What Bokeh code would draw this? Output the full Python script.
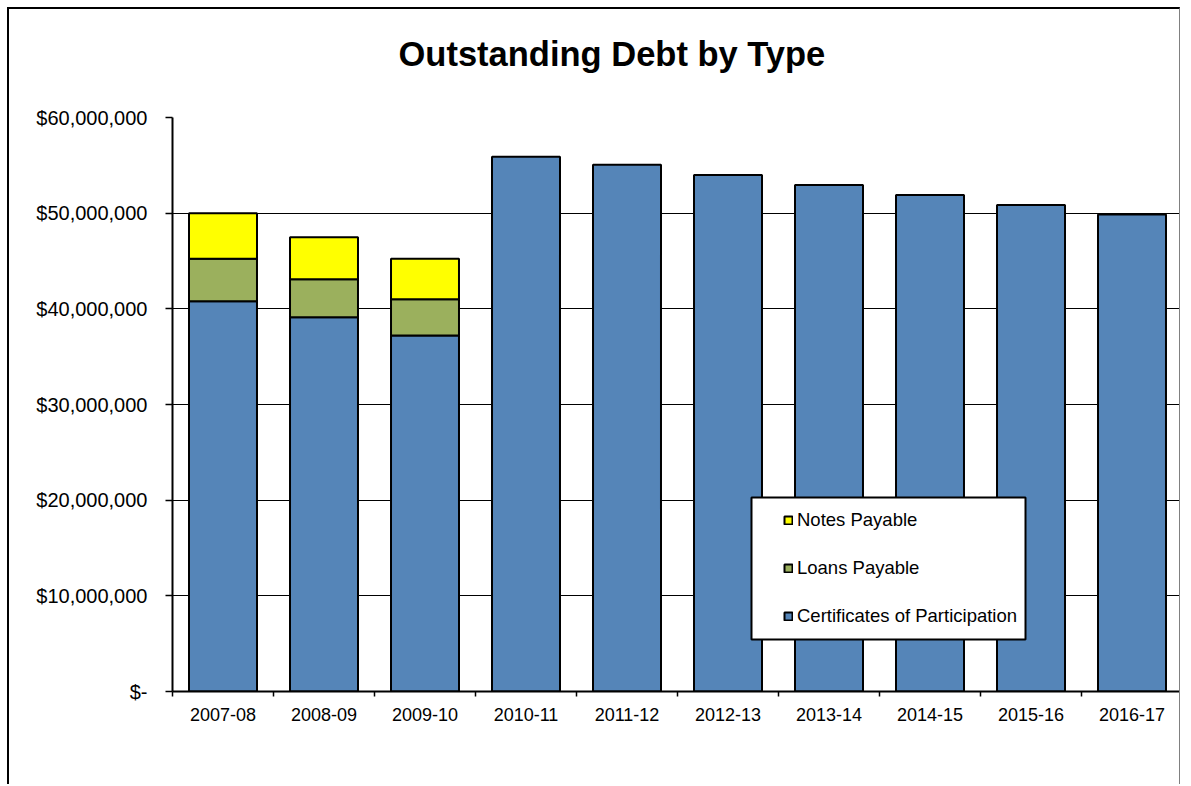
import numpy as np
from bokeh.plotting import figure
from bokeh.models import (Range1d, FixedTicker, Legend, LegendItem, BoxAnnotation,
                          ColumnDataSource, Title)
from bokeh.embed import file_html
from bokeh.resources import INLINE

# ---- data ----
categories = ["2007-08", "2008-09", "2009-10", "2010-11", "2011-12",
              "2012-13", "2013-14", "2014-15", "2015-16", "2016-17"]
certificates = [40_800_000, 39_130_000, 37_200_000, 55_900_000, 55_050_000,
                54_000_000, 52_950_000, 51_900_000, 50_850_000, 49_850_000]
loans = [4_430_000, 3_970_000, 3_800_000, 0, 0, 0, 0, 0, 0, 0]
notes = [4_770_000, 4_390_000, 4_230_000, 0, 0, 0, 0, 0, 0, 0]
y_ticks = [0, 10_000_000, 20_000_000, 30_000_000, 40_000_000, 50_000_000, 60_000_000]
title_text = "Outstanding Debt by Type"
series_names = ["Certificates of Participation", "Loans Payable", "Notes Payable"]
colors = ["#5585B8", "#9BB05D", "#FFFF00"]

FONT = "Liberation Sans"

n = len(categories)
xc = np.arange(n) + 0.5

p = figure(width=1173, height=777, output_backend="svg", toolbar_location=None,
           x_range=Range1d(0, n), y_range=Range1d(y_ticks[0], y_ticks[-1]),
           min_border_left=163, min_border_right=0, min_border_top=108,
           min_border_bottom=95)
p.styles = {"margin-left": "7px", "margin-top": "7px",
            "border-left": "2px solid black", "border-top": "2px solid black",
            "border-right": "1px solid #808080"}
p.outline_line_color = None
p.background_fill_color = "white"
p.border_fill_color = "white"

# real title, with an empty spacer title between it and the plot area
p.title = Title(text=title_text, align="left", offset=226, standoff=0,
                vertical_align="top", text_font=FONT, text_font_style="bold",
                text_font_size="34.5px", text_color="black")
p.add_layout(Title(text=" ", text_font_size="10px", standoff=30), "above")

# stacked segments
cop = np.array(certificates, dtype=float)
ln = np.array(loans, dtype=float)
nt = np.array(notes, dtype=float)
stacks = [(np.zeros(n), cop), (cop, cop + ln), (cop + ln, cop + ln + nt)]

renderers = []
for (bot, top), col in zip(stacks, colors):
    mask = (top - bot) > 0
    src = ColumnDataSource(dict(x=xc[mask], bottom=bot[mask], top=top[mask]))
    r = p.vbar(x="x", bottom="bottom", top="top", width=0.673, source=src,
               fill_color=col, line_color="black", line_width=2)
    renderers.append(r)

# grid
p.xgrid.visible = False
p.ygrid.ticker = FixedTicker(ticks=y_ticks)
p.ygrid.grid_line_color = "black"
p.ygrid.grid_line_width = 1
p.ygrid.level = "underlay"

# y axis
ya = p.yaxis[0]
ya.ticker = FixedTicker(ticks=y_ticks)
ya.major_label_overrides = {t: ("$-" if t == 0 else f"${t:,}") for t in y_ticks}
ya.axis_line_color = "black"
ya.axis_line_width = 2
ya.major_tick_line_color = "black"
ya.major_tick_line_width = 1.5
ya.major_tick_out = 7
ya.major_tick_in = 0
ya.minor_tick_line_color = None
ya.major_label_standoff = 18
ya.major_label_text_font = FONT
ya.major_label_text_font_size = "20px"
ya.major_label_text_color = "black"

# x axis
xa = p.xaxis[0]
xa.ticker = FixedTicker(ticks=list(xc), minor_ticks=list(range(0, n + 1)))
xa.major_label_overrides = {float(x): c for x, c in zip(xc, categories)}
xa.axis_line_color = "black"
xa.axis_line_width = 2
xa.major_tick_line_color = None
xa.major_tick_out = 0
xa.major_tick_in = 0
xa.minor_tick_line_color = "black"
xa.minor_tick_line_width = 1.5
xa.minor_tick_out = 5
xa.minor_tick_in = 0
xa.major_label_standoff = 11
xa.major_label_text_font = FONT
xa.major_label_text_font_size = "18px"
xa.major_label_text_color = "black"

# legend box (inside the plot area)
lbox = BoxAnnotation(left=740, right=1014, top=486, bottom=628,
                     left_units="canvas", right_units="canvas",
                     top_units="canvas", bottom_units="canvas",
                     fill_color="white", fill_alpha=1, line_color="black",
                     line_width=2, line_alpha=1)
p.add_layout(lbox)

items = [LegendItem(label=series_names[2], renderers=[renderers[2]]),
         LegendItem(label=series_names[1], renderers=[renderers[1]]),
         LegendItem(label=series_names[0], renderers=[renderers[0]])]
legend = Legend(items=items, location=(611, 64), padding=0, margin=0, spacing=26,
                glyph_width=10, glyph_height=10, label_height=22, label_standoff=4,
                border_line_alpha=0, background_fill_alpha=0,
                label_text_font=FONT, label_text_font_size="18.5px",
                label_text_color="black")
p.add_layout(legend)

open("out.html", "w").write(file_html(p, INLINE))
